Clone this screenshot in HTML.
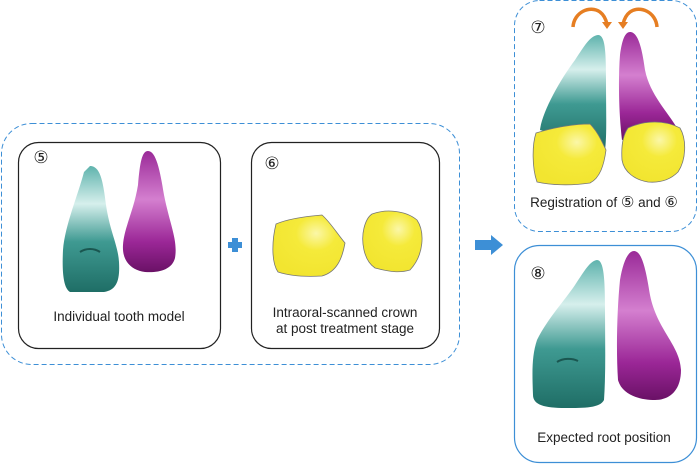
<!DOCTYPE html>
<html><head><meta charset="utf-8"><style>
html,body{margin:0;padding:0;background:#fff;}
svg{display:block;}
text{font-family:"Liberation Sans","DejaVu Sans",sans-serif;fill:#222;}
.cn{font-family:"DejaVu Sans","Noto Sans CJK JP",sans-serif;}
</style></head><body>
<svg width="698" height="464" viewBox="0 0 698 464" xmlns="http://www.w3.org/2000/svg">
<defs>
<linearGradient id="teal" x1="0" y1="0" x2="0" y2="1">
<stop offset="0" stop-color="#5fb3ad"/><stop offset="0.3" stop-color="#d6efec"/><stop offset="0.6" stop-color="#3f9a92"/><stop offset="1" stop-color="#1f6e66"/></linearGradient>
<linearGradient id="mag" x1="0" y1="0" x2="0" y2="1">
<stop offset="0" stop-color="#9a2a98"/><stop offset="0.4" stop-color="#d47fcf"/><stop offset="0.75" stop-color="#9b2797"/><stop offset="1" stop-color="#6a1166"/></linearGradient>
<radialGradient id="yel" cx="0.6" cy="0.3" r="0.7"><stop offset="0" stop-color="#fbf7a8"/><stop offset="0.4" stop-color="#f5ea3a"/><stop offset="1" stop-color="#f2e530"/></radialGradient>
</defs>

<rect x="1.5" y="123.5" width="458" height="241" rx="30" fill="none" stroke="#3d8fd6" stroke-width="1" stroke-dasharray="5,3"/>
<rect x="18.5" y="142.5" width="202" height="206" rx="20" fill="#fff" stroke="#222" stroke-width="1.2"/>
<rect x="251.5" y="142.5" width="188" height="206" rx="20" fill="#fff" stroke="#222" stroke-width="1.2"/>

<path d="M90,166 C100,166 103,180 106,205 C110,232 118,245 119,262 C120,280 117,290 104,292 L70,292 C63,288 62,270 63,250 C65,225 78,195 84,172 Z" fill="url(#teal)"/>
<path d="M80,252 C86,248 94,248 100,252" stroke="#1a5650" stroke-width="2" fill="none"/>
<path d="M148,151 C156,151 160,170 164,195 C170,225 178,240 175,258 C172,270 158,273 145,272 C130,270 122,260 123,245 C124,228 134,210 138,185 C140,162 142,151 148,151 Z" fill="url(#mag)"/>

<rect x="228" y="242" width="14" height="6" fill="#3d8fd6"/><rect x="232" y="238" width="6" height="14" fill="#3d8fd6"/>

<path d="M276,224 C290,218 310,216 322,215 C330,222 336,232 345,243 C342,260 336,272 322,276 C305,277 290,276 278,272 C271,262 272,240 276,224 Z" fill="url(#yel)" stroke="#777" stroke-width="0.8"/>
<path d="M372,214 C385,209 405,210 417,220 C425,232 424,255 410,270 C400,273 390,272 375,268 C363,260 361,240 364,228 C366,220 369,216 372,214 Z" fill="url(#yel)" stroke="#777" stroke-width="0.8"/>

<path d="M475,240 L491,240 L491,235 L503,245 L491,255 L491,250 L475,250 Z" fill="#3d8fd6"/>

<rect x="514.5" y="0.5" width="182" height="231" rx="25" fill="none" stroke="#3d8fd6" stroke-width="1" stroke-dasharray="5,3"/>
<path d="M598,35 C605,35 606,50 606,80 C606,110 607,135 605,150 L540,130 C542,112 560,80 575,60 C585,45 590,36 598,35 Z" fill="url(#teal)"/>
<path d="M630,32 C638,32 642,48 645,70 C650,95 668,112 677,128 L622,140 C619,115 618,80 620,55 C622,40 625,32 630,32 Z" fill="url(#mag)"/>
<path d="M536,133 C555,127 575,124 590,124 C598,132 602,142 606,150 C604,165 600,178 590,183 C570,186 550,185 537,182 C532,168 532,145 536,133 Z" fill="url(#yel)" stroke="#777" stroke-width="0.8"/>
<path d="M628,128 C645,120 665,120 680,128 C687,140 686,160 678,172 C670,180 660,183 648,182 C635,180 624,172 622,160 C621,145 623,135 628,128 Z" fill="url(#yel)" stroke="#777" stroke-width="0.8"/>
<path d="M573,27 C574,12 590,5 600,12 C604,15 606,20 607,24" fill="none" stroke="#e67e22" stroke-width="3.5"/>
<path d="M602,22 L612,22 L607,29 Z" fill="#e67e22"/>
<path d="M657,27 C656,12 640,5 630,12 C626,15 624,20 623,24" fill="none" stroke="#e67e22" stroke-width="3.5"/>
<path d="M618,22 L628,22 L623,29 Z" fill="#e67e22"/>

<rect x="514.5" y="245.5" width="182" height="217" rx="25" fill="none" stroke="#3d8fd6" stroke-width="1.2"/>
<path d="M597,260 C604,260 605,280 605,310 C605,340 606,370 604,400 C600,408 585,408 565,408 C545,408 533,405 533,395 C532,370 532,355 537,340 C548,318 565,300 575,285 C585,270 590,261 597,260 Z" fill="url(#teal)"/>
<path d="M557,362 C563,358 572,358 578,361" stroke="#1a5650" stroke-width="2" fill="none"/>
<path d="M634,251 C642,251 646,270 650,295 C657,330 680,345 681,370 C681,390 670,400 655,400 C640,400 622,395 618,380 C616,350 617,310 620,280 C623,262 628,251 634,251 Z" fill="url(#mag)"/>

<text class="cn" x="41" y="163" font-size="17" text-anchor="middle">⑤</text>
<text class="cn" x="272" y="169" font-size="17" text-anchor="middle">⑥</text>
<text class="cn" x="538" y="33" font-size="17" text-anchor="middle">⑦</text>
<text class="cn" x="538" y="279" font-size="17" text-anchor="middle">⑧</text>
<text x="119" y="321" font-size="13.5" text-anchor="middle">Individual tooth model</text>
<text x="345" y="317" font-size="13.5" text-anchor="middle">Intraoral-scanned crown</text>
<text x="345" y="333" font-size="13.5" text-anchor="middle">at post treatment stage</text>
<text x="604" y="207" font-size="13.5" text-anchor="middle">Registration of <tspan class="cn" font-size="15">⑤</tspan> and <tspan class="cn" font-size="15">⑥</tspan></text>
<text x="604" y="442" font-size="13.5" text-anchor="middle">Expected root position</text>
</svg>
</body></html>
